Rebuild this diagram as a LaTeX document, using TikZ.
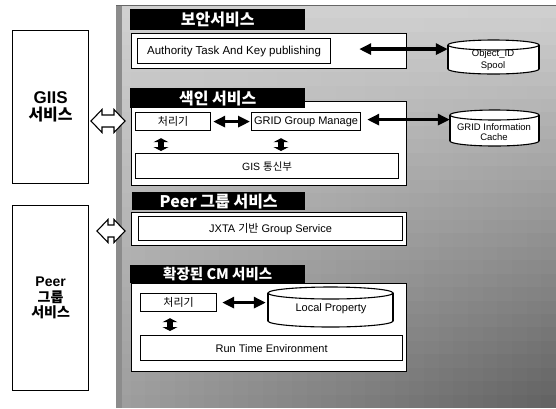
\documentclass[tikz,border=0pt]{standalone}
\usepackage{fontspec}
\setmainfont{Liberation Sans}
\newfontfamily\kr{Noto Sans CJK KR}
\usetikzlibrary{arrows.meta,calc}
\newcommand\mycyl[6]{%
  \fill[white] (#2,{#3+#6}) rectangle (#4,{#5-#6});
  \draw[cylline,fill=white] ({(#2+#4)/2},{#5-#6}) ellipse [x radius={(#4-#2)/2}, y radius=#6];
  \fill[white] (#2,{#3+#6}) rectangle (#4,{#5-#6});
  \draw[cylline] (#2,{#3+#6}) -- (#2,{#5-#6}) (#4,{#3+#6}) -- (#4,{#5-#6});
  \draw[cylline,fill=white] ({(#2+#4)/2},{#3+#6}) ellipse [x radius={(#4-#2)/2}, y radius=#6];
  \node[inner sep=0pt,minimum width={(#4-#2)*1pt},minimum height={(#5-#3)*1pt}] (#1) at ({(#2+#4)/2},{(#3+#5)/2}) {};
}
\newcommand\hollowarrow[3]{%
  \draw[line width=1.1pt,fill=white,line join=miter]
    (#1,#3) -- ({#1+11},{#3-11.5}) -- ({#1+11},{#3-6}) -- ({#2-11},{#3-6}) -- ({#2-11},{#3-11.5})
    -- (#2,#3) -- ({#2-11},{#3+11.5}) -- ({#2-11},{#3+6}) -- ({#1+11},{#3+6}) -- ({#1+11},{#3+11.5}) -- cycle;
}
\begin{document}
\begin{tikzpicture}[x=1pt,y=-1pt,
  boxA/.style={draw,line width=1.2pt,fill=white,inner sep=0pt,anchor=north west},
  outerbox/.style={draw,line width=1.3pt,fill=white,inner sep=0pt,anchor=north west},
  titlebar/.style={fill=black,text=white,inner sep=0pt,anchor=north west,font=\kr\bfseries\fontsize{16}{16}\selectfont},
  txt/.style={font=\fontsize{11}{13}\selectfont},
  krtxt/.style={font=\kr\fontsize{11}{13}\selectfont},
  cylline/.style={line width=1.1pt},
  blkarrow/.style={line width=3.4pt,{Triangle[length=12pt,width=11pt]}-{Triangle[length=12pt,width=11pt]}},
  varrow/.style={line width=6pt,{Triangle[length=4pt,width=15pt]}-{Triangle[length=4pt,width=15pt]}}
]
\useasboundingbox (0,0) rectangle (556,408);
\fill[white] (0,0) rectangle (556,408);
% textured background (grid of gray cells, darker towards the bottom right)
\foreach \i in {0,...,29}{\foreach \j in {0,...,29}{
  \pgfmathsetmacro\dk{18+20*(\j+0.5)/30+24*((\i+0.5)/30)*((\j+0.5)/30)}
  \fill[black!\dk] ({116+\i*440/30},{5+\j*403/30}) rectangle ({116+(\i+1)*440/30+0.4},{5+(\j+1)*403/30+0.4});
}}
\fill[black!45] (116,5) rectangle (122,408);
\draw[black!60,line width=1pt] (116,5) -- (556,5);

% left boxes
\node[boxA,minimum width=76pt,minimum height=153pt,align=center,font=\bfseries\fontsize{16}{17}\selectfont] (giis) at (12,30)
  {{\fontsize{17}{17}\selectfont GIIS}\\{\kr 서비스}};
\node[boxA,minimum width=76pt,minimum height=185pt,align=center,font=\bfseries\fontsize{14}{15.5}\selectfont] (peer) at (12,205)
  {Peer\\{\kr 그룹}\\{\kr 서비스}};

% hollow arrows
\hollowarrow{91}{125}{121}
\hollowarrow{97}{125}{231}

% outer boxes
\node[outerbox,minimum width=275pt,minimum height=35pt] (o1) at (131,33) {};
\node[outerbox,minimum width=275pt,minimum height=84pt] (o2) at (131,101) {};
\node[outerbox,minimum width=275pt,minimum height=33pt] (o3) at (131,212) {};
\node[outerbox,minimum width=275pt,minimum height=88pt] (o4) at (131,283) {};

% title bars
\node[titlebar,minimum width=175pt,minimum height=21pt] (t1) at (130,9) {보안서비스};
\node[titlebar,minimum width=175pt,minimum height=20pt] (t2) at (130,88) {색인 서비스};
\node[titlebar,minimum width=173pt,minimum height=18pt] (t3) at (132,192) {Peer 그룹 서비스};
\node[titlebar,minimum width=175pt,minimum height=18pt,font=\kr\bfseries\fontsize{14.5}{15}\selectfont] (t4) at (130,265) {확장된 CM 서비스};

% inner boxes
\node[boxA,minimum width=193pt,minimum height=25pt,font=\fontsize{11.5}{13}\selectfont] (auth) at (137,38) {Authority Task And Key publishing};
\node[boxA,minimum width=75pt,minimum height=18pt,krtxt] (p1) at (135,112) {처리기};
\node[boxA,minimum width=109pt,minimum height=18pt,txt] (gm) at (251,112) {GRID Group Manage};
\node[boxA,minimum width=263pt,minimum height=25pt,font=\fontsize{10.5}{13}\selectfont] (gis) at (135,153) {GIS {\kr 통신부}};
\node[boxA,minimum width=264pt,minimum height=24pt,txt] (jxta) at (138,216) {JXTA {\kr 기반} Group Service};
\node[boxA,minimum width=76pt,minimum height=18pt,krtxt] (p2) at (140,293) {처리기};
\node[boxA,minimum width=262pt,minimum height=25pt,txt] (rte) at (140,335) {Run Time Environment};

% cylinders
\mycyl{c1}{448}{40}{539}{74}{5}
\node[align=center,font=\fontsize{9.5}{12}\selectfont,inner sep=0pt] (c1t) at (493,60) {Object\_ID\\Spool};
\mycyl{c2}{450}{110}{539}{146}{5}
\node[align=center,font=\fontsize{9.5}{10.5}\selectfont,inner sep=0pt] (c2t) at (494,132) {GRID Information\\Cache};
\mycyl{lp}{268}{287}{393}{327}{6}
\node[txt,inner sep=0pt] (lpt) at (331,309) {Local Property};

% black connectors
\draw[blkarrow] ([xshift=28pt,yshift=2pt]auth.east) -- ([yshift=2pt]auth.east -| c1.west);
\draw[blkarrow] ([xshift=6pt,yshift=2pt]gm.east) -- ([yshift=2pt]gm.east -| c2.west);
\draw[blkarrow] ([xshift=2pt]p1.east) -- ([xshift=-1pt]gm.west);
\draw[blkarrow] ([xshift=5pt]p2.east) -- ([xshift=-2pt]p2.east -| lp.west);

\coordinate (v1) at (161,0);
\coordinate (v2) at (281,0);
\coordinate (v3) at (170,0);
\draw[varrow] ([yshift=-7pt]p1.south -| v1) -- ([yshift=2pt]gis.north -| v1);
\draw[varrow] ([yshift=-7pt]gm.south -| v2) -- ([yshift=2pt]gis.north -| v2);
\draw[varrow] ([yshift=-6pt]p2.south -| v3) -- ([yshift=4pt]rte.north -| v3);
\end{tikzpicture}
\end{document}
